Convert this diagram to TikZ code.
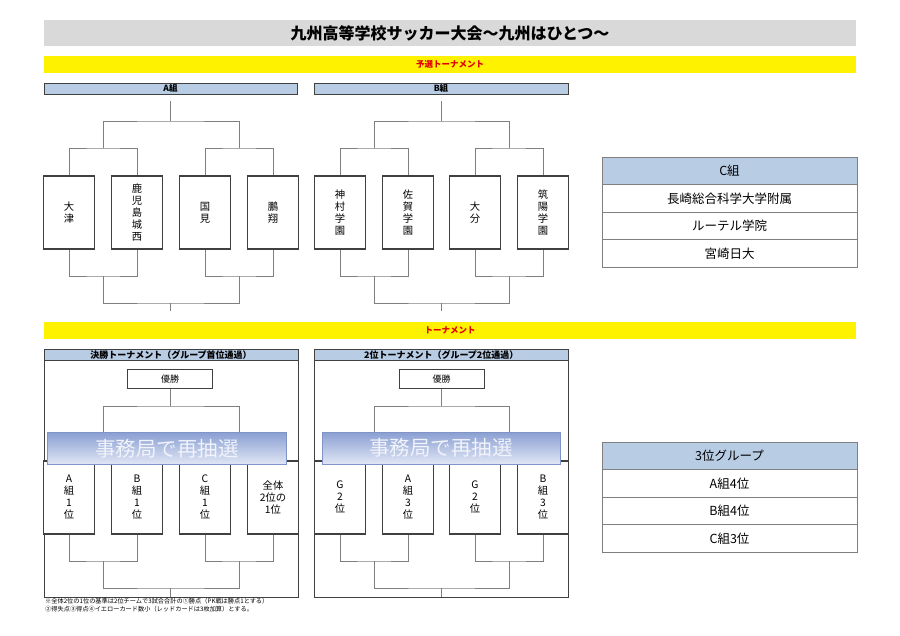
\documentclass[tikz,border=0pt]{standalone}
\usepackage{fontspec}
\setmainfont{Noto Sans CJK JP}
\definecolor{hdrblue}{HTML}{B8CCE4}
\definecolor{titlegray}{HTML}{D9D9D9}
\definecolor{boxc}{HTML}{404040}
\definecolor{linec}{HTML}{7F7F7F}
\definecolor{ovtop}{HTML}{8A9FD3}
\definecolor{ovbot}{HTML}{E0E6F4}
\definecolor{ovedge}{HTML}{8094C6}
\definecolor{ovtext}{HTML}{F0F3FA}
\definecolor{redtxt}{HTML}{E00000}
\begin{document}
\begin{tikzpicture}[x=1pt,y=-1pt,
  bar/.style={inner sep=0pt,minimum width=812pt},
  team/.style={draw=boxc,line width=1.3pt,fill=white,minimum width=51pt,minimum height=73pt,inner sep=0pt,align=center,font=\fontsize{10.3}{12}\selectfont},
  brk/.style={draw=linec,line width=0.8pt},
  grphdr/.style={draw=boxc,line width=0.7pt,fill=hdrblue,minimum height=11pt,inner sep=0pt,font=\fontsize{8.5}{9}\selectfont\bfseries},
  panel/.style={draw=boxc,line width=0.8pt,inner sep=0pt},
  panelhdr/.style={draw=boxc,line width=0.7pt,fill=hdrblue,minimum width=254pt,minimum height=11.5pt,inner sep=0pt,font=\fontsize{9}{10}\selectfont\bfseries},
  winbox/.style={draw=boxc,line width=1pt,fill=white,minimum width=85pt,minimum height=19pt,inner sep=0pt,font=\fontsize{9}{10}\selectfont},
  banner/.style={draw=ovedge,line width=0.6pt,top color=ovtop,bottom color=ovbot,minimum height=32pt,inner sep=0pt,text=ovtext,font=\fontsize{20.5}{22}\selectfont},
  cell/.style={draw=linec,line width=0.8pt,fill=white,minimum width=255pt,minimum height=27.5pt,inner sep=0pt,font=\fontsize{12.5}{14}\selectfont},
  cellhdr/.style={cell,fill=hdrblue}
]
\useasboundingbox[fill=white] (0,0) rectangle (900,636);

% title and section bars
\node[bar,fill=titlegray,minimum height=26pt,font=\fontsize{16}{18}\selectfont\bfseries] (title) at (450,33) {九州高等学校サッカー大会～九州はひとつ～};
\node[bar,fill=yellow,minimum height=17pt,text=redtxt,font=\fontsize{8.5}{9}\selectfont\bfseries] (yb1) at (450,64.5) {予選トーナメント};
\node[bar,fill=yellow,minimum height=17pt,text=redtxt,font=\fontsize{8.5}{9}\selectfont\bfseries] (yb2) at (450,330.5) {トーナメント};

% group headers
\node[grphdr,minimum width=253pt] (ha) at (170.5,88.5) {A組};
\node[grphdr,minimum width=254pt] (hb) at (441,88.5) {B組};

% group A
\node[team] (a1) at (69,212.5) {大\\津};
\node[team] (a2) at (137,212.5) {鹿\\児\\島\\城\\西};
\node[team] (a3) at (205,212.5) {国\\見};
\node[team] (a4) at (273,212.5) {鵬\\翔};
\coordinate (aTop) at (170,101);
\coordinate (aTu) at (170,121);
\coordinate (a12u) at (103,148);
\coordinate (a34u) at (239,148);
\coordinate (a12d) at (103,276);
\coordinate (a34d) at (239,276);
\coordinate (aBd) at (170,303);
\coordinate (aBot) at (170,311);
\draw[brk] (a1.north) |- (a12u) -| (a2.north);
\draw[brk] (a3.north) |- (a34u) -| (a4.north);
\draw[brk] (a12u) |- (aTu) -| (a34u);
\draw[brk] (aTu) -- (aTop);
\draw[brk] (a1.south) |- (a12d) -| (a2.south);
\draw[brk] (a3.south) |- (a34d) -| (a4.south);
\draw[brk] (a12d) |- (aBd) -| (a34d);
\draw[brk] (aBd) -- (aBot);

% group B
\node[team] (b1) at (340,212.5) {神\\村\\学\\園};
\node[team] (b2) at (408,212.5) {佐\\賀\\学\\園};
\node[team] (b3) at (475,212.5) {大\\分};
\node[team] (b4) at (543,212.5) {筑\\陽\\学\\園};
\coordinate (bTop) at (441.5,101);
\coordinate (bTu) at (441.5,121);
\coordinate (b12u) at (374,148);
\coordinate (b34u) at (509,148);
\coordinate (b12d) at (374,276);
\coordinate (b34d) at (509,276);
\coordinate (bBd) at (441.5,303);
\coordinate (bBot) at (441.5,311);
\draw[brk] (b1.north) |- (b12u) -| (b2.north);
\draw[brk] (b3.north) |- (b34u) -| (b4.north);
\draw[brk] (b12u) |- (bTu) -| (b34u);
\draw[brk] (bTu) -- (bTop);
\draw[brk] (b1.south) |- (b12d) -| (b2.south);
\draw[brk] (b3.south) |- (b34d) -| (b4.south);
\draw[brk] (b12d) |- (bBd) -| (b34d);
\draw[brk] (bBd) -- (bBot);

% group C table
\node[cellhdr] (c0) at (729.5,171) {C組};
\node[cell] (c1) at (729.5,198.5) {長崎総合科学大学附属};
\node[cell] (c2) at (729.5,226) {ルーテル学院};
\node[cell] (c3) at (729.5,253.5) {宮崎日大};

% 3rd place group table
\node[cellhdr] (t0) at (729.5,456) {3位グループ};
\node[cell] (t1) at (729.5,483.5) {A組4位};
\node[cell] (t2) at (729.5,511) {B組4位};
\node[cell] (t3) at (729.5,538.5) {C組3位};

% lower left panel
\node[panel,minimum width=254pt,minimum height=248pt] (pl) at (171,473) {};
\node[panelhdr] (plh) at (171,355) {決勝トーナメント（グループ首位通過）};
\node[winbox] (lwin) at (170,378.7) {優勝};
\node[team] (l1) at (69,497.5) {A\\組\\1\\位};
\node[team] (l2) at (137,497.5) {B\\組\\1\\位};
\node[team] (l3) at (205,497.5) {C\\組\\1\\位};
\node[team] (l4) at (273,497.5) {全体\\2位の\\1位};
\coordinate (lTu) at (170,406);
\coordinate (l12u) at (103,445);
\coordinate (l34u) at (239,445);
\coordinate (l12d) at (103,561);
\coordinate (l34d) at (239,561);
\coordinate (lBd) at (170,588);
\coordinate (lBot) at (170,597);
\draw[brk] (lwin.south) -- (lTu);
\draw[brk] (l12u) |- (lTu) -| (l34u);
\draw[brk] (l1.north) |- (l12u) -| (l2.north);
\draw[brk] (l3.north) |- (l34u) -| (l4.north);
\draw[brk] (l1.south) |- (l12d) -| (l2.south);
\draw[brk] (l3.south) |- (l34d) -| (l4.south);
\draw[brk] (l12d) |- (lBd) -| (l34d);
\draw[brk] (lBd) -- (lBot);
\node[banner,minimum width=239.4pt] (lban) at (167,448.3) {事務局で再抽選};

% lower right panel
\node[panel,minimum width=254.5pt,minimum height=248pt] (pr) at (441.25,473) {};
\node[panelhdr,minimum width=254.5pt] (prh) at (441.25,355) {2位トーナメント（グループ2位通過）};
\node[winbox] (rwin) at (441.5,378.7) {優勝};
\node[team] (r1) at (340,497.5) {G\\2\\位};
\node[team] (r2) at (408,497.5) {A\\組\\3\\位};
\node[team] (r3) at (475,497.5) {G\\2\\位};
\node[team] (r4) at (543,497.5) {B\\組\\3\\位};
\coordinate (rTu) at (441.5,406);
\coordinate (r12u) at (374,445);
\coordinate (r34u) at (509,445);
\coordinate (r12d) at (374,561);
\coordinate (r34d) at (509,561);
\coordinate (rBd) at (441.5,588);
\coordinate (rBot) at (441.5,597);
\draw[brk] (rwin.south) -- (rTu);
\draw[brk] (r12u) |- (rTu) -| (r34u);
\draw[brk] (r1.north) |- (r12u) -| (r2.north);
\draw[brk] (r3.north) |- (r34u) -| (r4.north);
\draw[brk] (r1.south) |- (r12d) -| (r2.south);
\draw[brk] (r3.south) |- (r34d) -| (r4.south);
\draw[brk] (r12d) |- (rBd) -| (r34d);
\draw[brk] (rBd) -- (rBot);
\node[banner,minimum width=237.7pt] (rban) at (441.2,448) {事務局で再抽選};

% footnote
\node[anchor=north west,inner sep=0pt,align=left,font=\fontsize{6.2}{8}\selectfont] (note) at (45,597.5) {※全体2位の1位の基準は2位チームで3試合合計の①勝点（PK戦は勝点1とする）\\②得失点③得点④イエローカード数小（レッドカードは3枚加算）とする。};
\end{tikzpicture}
\end{document}
